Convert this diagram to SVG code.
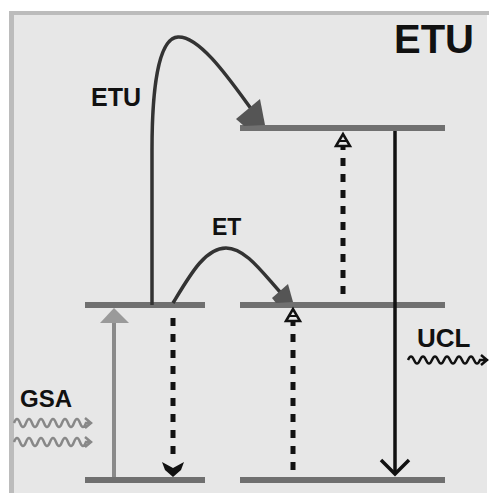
<svg xmlns="http://www.w3.org/2000/svg" width="490" height="493" viewBox="0 0 490 493">
<style>
.lvl{fill:#707070}
.lbl{font-family:"Liberation Sans",Arial,sans-serif;fill:#111;font-weight:bold}
.dash{stroke:#111;stroke-width:5;stroke-dasharray:8 8;fill:none}
.curve{stroke:#333;stroke-width:3.5;fill:none}
.head{fill:#555}
.ohead{fill:none;stroke:#111;stroke-width:2.5;stroke-linejoin:miter}
.wave{fill:none;stroke-width:2.5}
</style>
<rect x="0" y="0" width="490" height="493" fill="#ffffff"/>
<rect x="9" y="11" width="478" height="482" fill="#e7e7e7"/>
<rect x="9" y="11" width="5" height="482" fill="#bcbcbc"/>
<rect x="9" y="11" width="480" height="4" fill="#bcbcbc"/>

<g id="level-top"><rect class="lvl" x="240" y="125" width="205" height="6"/></g>
<g id="level-mid-left"><rect class="lvl" x="85" y="302" width="120" height="6"/></g>
<g id="level-mid-right"><rect class="lvl" x="240" y="302" width="205" height="6"/></g>
<g id="level-bot-left"><rect class="lvl" x="85" y="477" width="120" height="6"/></g>
<g id="level-bot-right"><rect class="lvl" x="240" y="477" width="205" height="6"/></g>

<g id="connectors">
  <path class="curve" d="M152,305 L152,150 C152,90 158,38 178,37 C200,36 230,80 252,110"/>
  <polygon class="head" points="236,119 260,99 265,125 244,126"/>
  <path class="curve" d="M173,303 C190,275 205,248 226,248 C245,248 262,272 280,292"/>
  <polygon class="head" points="272,298 288,284 293,302 276,303"/>
  <line x1="114" y1="477" x2="114" y2="318" stroke="#8a8a8a" stroke-width="4"/>
  <polygon points="100,323 114,308 129,323" fill="#9a9a9a"/>
  <line class="dash" x1="173" y1="318" x2="173" y2="462"/>
  <polygon points="162,462 173,468 184,462 181,470 173,477 165,470" fill="#111"/>
  <line class="dash" x1="293" y1="470" x2="293" y2="322"/>
  <polygon class="ohead" points="286,321 293,309 300,321"/>
  <line x1="289" y1="316" x2="297" y2="316" stroke="#111" stroke-width="2"/>
  <line class="dash" x1="343" y1="294" x2="343" y2="147"/>
  <polygon class="ohead" points="336,146 343,134 350,146"/>
  <line x1="339" y1="141" x2="347" y2="141" stroke="#111" stroke-width="2"/>
  <line x1="395" y1="131" x2="395" y2="474" stroke="#111" stroke-width="3.5"/>
  <polyline points="381,460 395,474 409,460" fill="none" stroke="#111" stroke-width="3.5"/>
  <path class="wave" stroke="#888" d="M14,423 q3,-8 6,0 t6,0 t6,0 t6,0 t6,0 t6,0 t6,0 t6,0 t6,0 t6,0 t6,0 t6,0 L90,423 M85,418 L91,423 L85,428"/>
  <path class="wave" stroke="#888" d="M14,442 q3,-8 6,0 t6,0 t6,0 t6,0 t6,0 t6,0 t6,0 t6,0 t6,0 t6,0 t6,0 t6,0 L90,442 M85,437 L91,442 L85,447"/>
  <path class="wave" stroke="#111" d="M408,360 q3,-7 6,0 t6,0 t6,0 t6,0 t6,0 t6,0 t6,0 t6,0 t6,0 t6,0 t6,0 t6,0 L486,360 M481,355 L487,360 L481,365"/>
</g>

<g id="labels">
  <text class="lbl" x="394" y="53" font-size="40">ETU</text>
  <text class="lbl" x="91" y="106" font-size="25">ETU</text>
  <text class="lbl" x="212" y="235" font-size="23">ET</text>
  <text class="lbl" x="20" y="407" font-size="24">GSA</text>
  <text class="lbl" x="417" y="347" font-size="26">UCL</text>
</g>
</svg>
